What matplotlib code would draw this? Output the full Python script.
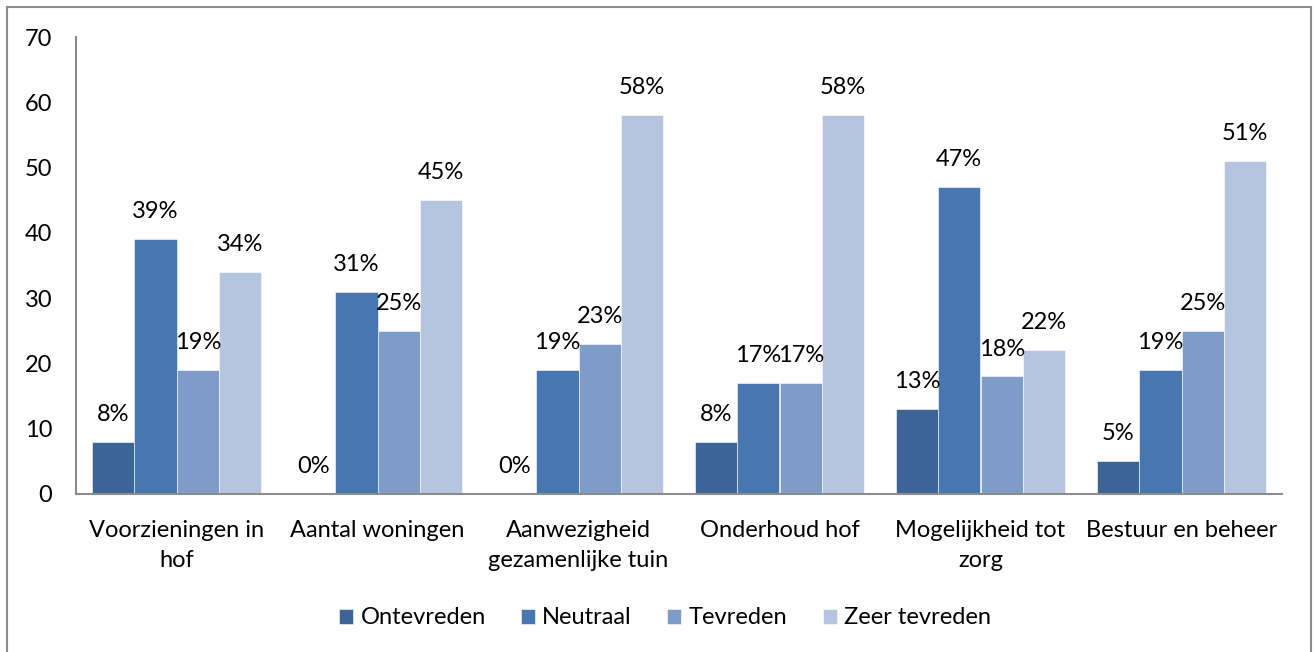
import numpy as np
import matplotlib
matplotlib.use("Agg")
import matplotlib.pyplot as plt
from matplotlib.lines import Line2D

# Tevredenheid per onderdeel (percentages)
categories = ["Voorzieningen in\nhof", "Aantal woningen", "Aanwezigheid\ngezamenlijke tuin",
              "Onderhoud hof", "Mogelijkheid tot\nzorg", "Bestuur en beheer"]
series_names = ["Ontevreden", "Neutraal", "Tevreden", "Zeer tevreden"]
ontevreden = [8, 0, 0, 8, 13, 5]
neutraal = [39, 31, 19, 17, 47, 19]
tevreden = [19, 25, 23, 17, 18, 25]
zeer_tevreden = [34, 45, 58, 58, 22, 51]
y_ticks = [0, 10, 20, 30, 40, 50, 60, 70]

colors = ["#3C6496", "#4876B0", "#7F9CC8", "#B5C4DF"]

plt.rcParams['font.family'] = ['Lato', 'DejaVu Sans']
FS = 17

fig = plt.figure(figsize=(13.14, 6.52), dpi=100)
ax = fig.add_axes([76 / 1314, 1 - 494 / 652, (1282 - 76) / 1314, (494 - 37) / 652])

x = np.arange(len(categories))
width = 0.211
all_series = [ontevreden, neutraal, tevreden, zeer_tevreden]
for i, (vals, name, c) in enumerate(zip(all_series, series_names, colors)):
    pos = x + (i - 1.5) * width
    ax.bar(pos, vals, width, color=c, label=name, edgecolor="white", linewidth=0.4)
    for px, v in zip(pos, vals):
        ax.text(px, v + 2.6, f"{v}%", ha="center", va="bottom", fontsize=FS)

ax.set_xlim(-0.5, len(categories) - 0.5)
ax.set_ylim(0, 70)
ax.set_yticks(y_ticks)
ax.set_xticks(x)
ax.set_xticklabels(categories, fontsize=FS, linespacing=1.5)
ax.tick_params(axis="both", length=0, labelsize=FS)
ax.tick_params(axis="x", pad=19)
ax.tick_params(axis="y", pad=17)
for lbl in ax.get_yticklabels():
    lbl.set_horizontalalignment("right")

for s in ["top", "right"]:
    ax.spines[s].set_visible(False)
for s in ["left", "bottom"]:
    ax.spines[s].set_color("#8c8c8c")
    ax.spines[s].set_linewidth(1.5)

ax.legend(loc="center", bbox_to_anchor=(0.5 - 14 / 1206, 1 - (618 - 37) / 457), ncol=4,
          frameon=False, fontsize=FS, handlelength=0.6, handleheight=0.6,
          handletextpad=0.3, columnspacing=1.5)

# outer chart border
gray = "#8c8c8c"
fig.add_artist(Line2D([7 / 1314, 7 / 1314], [0, 1 - 7 / 652], transform=fig.transFigure, color=gray, lw=1.5))
fig.add_artist(Line2D([1311 / 1314, 1311 / 1314], [0, 1 - 7 / 652], transform=fig.transFigure, color=gray, lw=1.5))
fig.add_artist(Line2D([7 / 1314, 1311 / 1314], [1 - 7 / 652, 1 - 7 / 652], transform=fig.transFigure, color=gray, lw=1.5))

fig.savefig("out.png", dpi=100)
